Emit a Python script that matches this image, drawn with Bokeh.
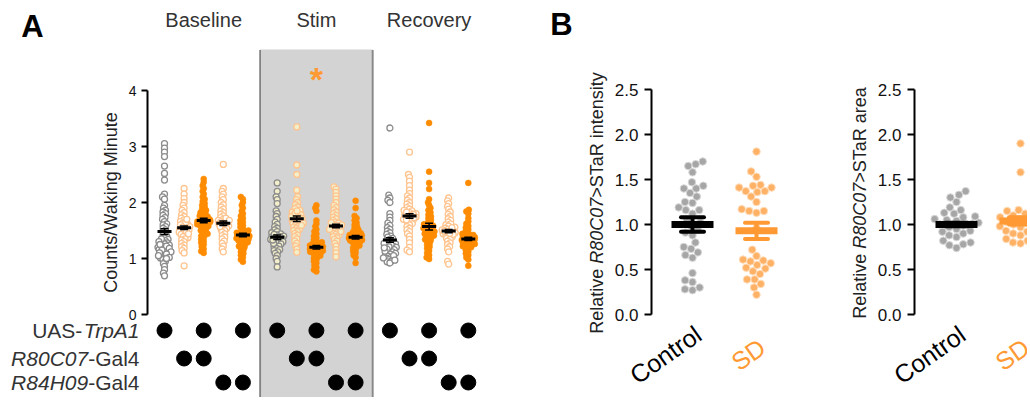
import math
from bokeh.plotting import figure
from bokeh.layouts import row
from bokeh.models import BoxAnnotation, FixedTicker, Range1d, LinearAxis
from bokeh.core.properties import value
from bokeh.embed import file_html
from bokeh.resources import INLINE

FONT = "Liberation Sans"

# ---------------- Panel A data ----------------
phases = ["Baseline", "Stim", "Recovery"]
row_labels = [("UAS-", "TrpA1"), ("R80C07", "-Gal4"), ("R84H09", "-Gal4")]
row_italic_first = [False, True, True]
uas_member = [1, 0, 1, 0, 1]
r80_member = [0, 1, 1, 0, 0]
r84_member = [0, 0, 0, 1, 1]

base_uas = [3.05, 2.97, 2.90, 2.82, 2.65, 2.52, 2.40, 2.15, 2.10, 2.06, 1.95, 1.90, 1.86, 1.83, 1.80, 1.77,
            1.73, 1.70, 1.66, 1.62, 1.60, 1.57, 1.54, 1.51, 1.48, 1.45, 1.42, 1.40, 1.37, 1.34, 1.32, 1.30,
            1.28, 1.26, 1.24, 1.22, 1.20, 1.18, 1.16, 1.14, 1.12, 1.10, 1.07, 1.04, 1.01, 0.98, 0.95, 0.91,
            0.86, 0.80, 0.74, 0.69, 1.35, 1.30, 1.25, 1.22, 1.18, 1.15, 1.12, 1.10, 1.08, 1.05, 1.02, 1.00]
base_r80 = [2.25, 2.15, 2.07, 2.00, 1.95, 1.90, 1.86, 1.82, 1.78, 1.75, 1.72, 1.69, 1.66, 1.63, 1.61, 1.59,
            1.57, 1.55, 1.53, 1.51, 1.49, 1.47, 1.45, 1.43, 1.41, 1.39, 1.37, 1.35, 1.33, 1.30, 1.27, 1.24,
            1.21, 1.18, 1.14, 1.10, 0.87, 1.60, 1.56, 1.52, 1.48, 1.44, 1.65, 1.70]
base_uas_r80 = [2.42, 2.36, 2.30, 2.25, 2.20, 2.15, 2.10, 2.06, 2.02, 1.98, 1.95, 1.92, 1.89, 1.86, 1.84, 1.82,
                1.80, 1.78, 1.76, 1.74, 1.72, 1.70, 1.68, 1.66, 1.65, 1.63, 1.61, 1.60, 1.58, 1.56, 1.54, 1.52,
                1.50, 1.48, 1.46, 1.44, 1.42, 1.40, 1.37, 1.34, 1.31, 1.28, 1.25, 1.21, 1.17, 1.13, 1.10, 1.70,
                1.66, 1.62, 1.58, 1.75, 1.68, 1.64]
base_r84 = [2.68, 2.25, 2.20, 2.15, 2.10, 2.05, 2.00, 1.96, 1.92, 1.88, 1.85, 1.82, 1.79, 1.76, 1.73, 1.70,
            1.68, 1.66, 1.64, 1.62, 1.60, 1.58, 1.56, 1.54, 1.52, 1.50, 1.47, 1.44, 1.41, 1.38, 1.35, 1.31,
            1.27, 1.22, 1.17, 1.12, 1.65, 1.61, 1.57, 1.72, 1.68]
base_uas_r84 = [2.10, 2.06, 2.00, 1.95, 1.90, 1.85, 1.80, 1.76, 1.72, 1.68, 1.65, 1.62, 1.59, 1.56, 1.53, 1.50,
                1.48, 1.46, 1.44, 1.42, 1.40, 1.38, 1.36, 1.34, 1.32, 1.30, 1.28, 1.26, 1.24, 1.22, 1.20, 1.18,
                1.15, 1.12, 1.09, 1.06, 1.02, 0.98, 0.94, 1.45, 1.41, 1.37, 1.33, 1.29, 1.43, 1.39, 1.35, 1.47]

stim_uas = [2.35, 2.20, 2.10, 2.05, 1.98, 1.85, 1.80, 1.75, 1.70, 1.65, 1.61, 1.57, 1.54, 1.51, 1.48, 1.46,
            1.44, 1.42, 1.40, 1.38, 1.36, 1.34, 1.32, 1.30, 1.28, 1.26, 1.24, 1.22, 1.20, 1.18, 1.16, 1.14,
            1.12, 1.09, 1.05, 1.00, 0.95, 0.85, 1.39, 1.35, 1.31, 1.27, 1.43, 1.37, 1.33]
stim_r80 = [3.35, 2.67, 2.50, 2.22, 2.10, 2.05, 2.00, 1.96, 1.92, 1.89, 1.86, 1.83, 1.80, 1.78, 1.76, 1.74,
            1.72, 1.70, 1.68, 1.66, 1.64, 1.62, 1.60, 1.58, 1.56, 1.54, 1.52, 1.50, 1.48, 1.45, 1.42, 1.39,
            1.35, 1.31, 1.27, 1.22, 1.17, 1.11, 1.75, 1.71, 1.67, 1.63, 1.59, 1.81, 1.85]
stim_uas_r80 = [1.95, 1.90, 1.85, 1.68, 1.62, 1.57, 1.52, 1.48, 1.44, 1.40, 1.37, 1.34, 1.31, 1.29, 1.27, 1.25,
                1.23, 1.21, 1.19, 1.17, 1.15, 1.13, 1.11, 1.09, 1.07, 1.05, 1.03, 1.01, 0.98, 0.95, 0.92, 0.88,
                0.84, 0.80, 0.77, 1.22, 1.18, 1.14, 1.10, 1.20, 1.16, 1.12, 1.26]
stim_r84 = [2.28, 2.24, 2.18, 2.12, 2.06, 2.00, 1.95, 1.91, 1.87, 1.83, 1.80, 1.77, 1.74, 1.71, 1.68, 1.65,
            1.63, 1.61, 1.59, 1.57, 1.55, 1.53, 1.51, 1.49, 1.47, 1.45, 1.43, 1.41, 1.39, 1.37, 1.34, 1.31,
            1.27, 1.22, 1.16, 1.10, 1.03, 1.60, 1.56, 1.52, 1.64, 1.48]
stim_uas_r84 = [2.03, 1.90, 1.76, 1.72, 1.68, 1.64, 1.60, 1.57, 1.54, 1.51, 1.49, 1.47, 1.45, 1.43, 1.41, 1.39,
                1.37, 1.35, 1.33, 1.31, 1.29, 1.27, 1.25, 1.23, 1.21, 1.19, 1.16, 1.13, 1.10, 1.06, 1.02, 0.92,
                1.40, 1.36, 1.32, 1.38, 1.34, 1.42, 1.44, 1.30]

rec_uas = [3.33, 2.13, 2.08, 2.04, 2.00, 1.80, 1.74, 1.68, 1.63, 1.59, 1.55, 1.52, 1.49, 1.46, 1.43, 1.40,
           1.38, 1.36, 1.34, 1.32, 1.30, 1.28, 1.26, 1.24, 1.22, 1.20, 1.18, 1.16, 1.14, 1.12, 1.10, 1.08,
           1.06, 1.04, 1.02, 1.00, 0.98, 0.96, 0.94, 0.92, 1.25, 1.21, 1.17, 1.13, 1.09, 1.05, 1.01, 0.97,
           1.27, 1.19]
rec_r80 = [2.90, 2.50, 2.45, 2.38, 2.30, 2.22, 2.16, 2.12, 2.08, 2.04, 2.00, 1.97, 1.94, 1.91, 1.88, 1.85,
           1.82, 1.80, 1.78, 1.76, 1.74, 1.72, 1.70, 1.68, 1.66, 1.64, 1.62, 1.60, 1.57, 1.54, 1.51, 1.48,
           1.44, 1.40, 1.34, 1.28, 1.20, 1.15, 1.12, 1.86, 1.79, 1.73, 1.69, 1.83, 1.77]
rec_uas_r80 = [3.42, 2.55, 2.35, 2.24, 2.06, 2.00, 1.95, 1.90, 1.86, 1.82, 1.78, 1.75, 1.72, 1.69, 1.66, 1.63,
               1.60, 1.58, 1.56, 1.54, 1.52, 1.50, 1.48, 1.46, 1.44, 1.42, 1.40, 1.38, 1.36, 1.34, 1.32, 1.30,
               1.27, 1.24, 1.21, 1.18, 1.14, 1.10, 1.06, 1.02, 0.99, 1.61, 1.57, 1.53, 1.49, 1.45, 1.41]
rec_r84 = [2.08, 2.03, 1.98, 1.93, 1.88, 1.83, 1.79, 1.75, 1.71, 1.68, 1.65, 1.62, 1.60, 1.58, 1.56, 1.54,
           1.52, 1.50, 1.48, 1.46, 1.44, 1.42, 1.40, 1.38, 1.36, 1.34, 1.31, 1.28, 1.25, 1.21, 1.17, 1.12,
           0.95, 0.90, 1.51, 1.47, 1.43, 1.55, 1.49, 1.45]
rec_uas_r84 = [2.35, 1.87, 1.84, 1.80, 1.72, 1.66, 1.62, 1.58, 1.55, 1.52, 1.49, 1.46, 1.44, 1.42, 1.40, 1.38,
               1.36, 1.34, 1.32, 1.30, 1.28, 1.26, 1.24, 1.22, 1.20, 1.18, 1.15, 1.12, 1.09, 1.06, 1.02, 0.98,
               0.87, 1.37, 1.33, 1.29, 1.25, 1.39, 1.35, 1.31, 1.27, 1.41, 1.43, 1.21]

columns_A = [
    [base_uas, base_r80, base_uas_r80, base_r84, base_uas_r84],
    [stim_uas, stim_r80, stim_uas_r80, stim_r84, stim_uas_r84],
    [rec_uas, rec_r80, rec_uas_r80, rec_r84, rec_uas_r84],
]
means_A = [[1.48, 1.55, 1.68, 1.63, 1.42],
           [1.38, 1.71, 1.20, 1.58, 1.38],
           [1.33, 1.76, 1.57, 1.49, 1.35]]
sems_A = [[0.05, 0.03, 0.04, 0.04, 0.03],
          [0.04, 0.05, 0.03, 0.03, 0.03],
          [0.04, 0.04, 0.06, 0.03, 0.03]]
sig_phase, sig_group, sig_y = 1, 2, 4.2

# ---------------- Panel B data ----------------
b_categories = ["Control", "SD"]
intensity_control = [1.70, 1.65, 1.67, 1.58, 1.47, 1.43, 1.40, 1.40, 1.35, 1.31, 1.25, 1.24, 1.19, 1.16, 1.16,
                     1.12, 1.05, 1.02, 0.98, 0.94, 0.91, 0.88, 0.80, 0.75, 0.73, 0.69, 0.66, 0.63, 0.46, 0.38,
                     0.36, 0.30, 0.28, 0.27]
intensity_sd = [1.81, 1.59, 1.53, 1.44, 1.43, 1.41, 1.41, 1.37, 1.37, 1.36, 1.31, 1.25, 1.17, 1.15, 1.15, 1.13,
                0.96, 0.72, 0.65, 0.61, 0.60, 0.59, 0.57, 0.55, 0.52, 0.51, 0.48, 0.45, 0.39, 0.39, 0.34, 0.30,
                0.22]
area_control = [1.37, 1.33, 1.30, 1.25, 1.19, 1.16, 1.13, 1.12, 1.09, 1.08, 1.06, 1.05, 1.04, 1.02, 1.01, 1.00,
                0.99, 0.97, 0.95, 0.93, 0.92, 0.90, 0.88, 0.86, 0.82, 0.80, 0.78, 0.77, 0.74]
area_sd = [1.90, 1.58, 1.16, 1.15, 1.14, 1.12, 1.10, 1.08, 1.06, 1.05, 1.03, 1.02, 1.00, 0.98, 0.97, 0.95,
           0.93, 0.92, 0.90, 0.88, 0.86, 0.84, 0.82, 0.80, 0.79]
intensity_means = [1.00, 0.93]
intensity_sems = [0.08, 0.09]
area_means = [1.00, 1.04]
area_sems = [0.02, 0.04]
b_ylabels = [("Relative ", "R80C07", ">STaR intensity"), ("Relative ", "R80C07", ">STaR area")]

# ---------------- helpers ----------------
AW = {' ': 278, '-': 333, '/': 278, '>': 584, '.': 278, 'A': 667, 'B': 667, 'C': 722, 'D': 722, 'G': 778,
      'H': 722, 'R': 722, 'S': 667, 'T': 611, 'U': 722, 'W': 944, 'M': 833, 'a': 556, 'e': 556, 'i': 222,
      'l': 222, 'n': 556, 'o': 556, 'p': 556, 'r': 333, 's': 500, 't': 278, 'u': 556, 'v': 500, 'y': 500,
      'k': 500, 'g': 556, 'c': 500, 'd': 556}


def text_w(s, size):
    return sum(AW.get(ch, 556) for ch in s) / 1000.0 * size


def swarm(vals, d, ppx, ppy, maxw):
    order = sorted(range(len(vals)), key=lambda i: vals[i])
    placed = []
    offs = [0.0] * len(vals)
    for i in order:
        y = vals[i] * ppy
        cands = [0.0]
        for (px, py) in placed:
            dy = abs(py - y)
            if dy < d:
                dx = math.sqrt(d * d - dy * dy)
                cands += [px + dx, px - dx]
        cands.sort(key=lambda c: (abs(c), c))
        chosen = None
        for c in cands:
            if abs(c) > maxw:
                continue
            if all((c - px) ** 2 + (y - py) ** 2 >= d * d - 1e-6 for (px, py) in placed):
                chosen = c
                break
        if chosen is None:
            best = min(cands, key=lambda c: abs(abs(c) - maxw))
            chosen = max(-maxw, min(maxw, best))
        placed.append((chosen, y))
        offs[i] = chosen / ppx
    return offs


def style_axis(a, size):
    a.minor_tick_line_color = None
    a.axis_line_width = 2
    a.major_tick_line_width = 2
    a.major_tick_in = 0
    a.major_label_text_font = FONT
    a.major_label_text_font_size = size
    a.major_label_text_color = "#111111"


# page geometry (reference pixels); canvas origin sits at page (1, 1)
ORG = 1
FIG_H = 397
A_W, B1_W, B2_W = 544, 263, 220

# ---------------- Panel A ----------------
A_PPX, A_PPY = 19.6, 56.0
A_X0PX, A_Y0PX = 165.0, 315.0   # page px of data (0, 0)


def ax(px):
    return (px - A_X0PX) / A_PPX


def ay(py):
    return (A_Y0PX - py) / A_PPY


PHASE_STEP = 5.75
pA = figure(width=A_W, height=FIG_H, x_range=Range1d(ax(ORG), ax(ORG + A_W)),
            y_range=Range1d(ay(ORG + FIG_H), ay(ORG)),
            output_backend="svg", toolbar_location=None, x_axis_type=None, y_axis_location=None,
            min_border=0, outline_line_color=None, background_fill_color=None, border_fill_color="white")
pA.grid.visible = False
ya = LinearAxis(fixed_location=ax(148), bounds=(0, 4), ticker=FixedTicker(ticks=[0, 1, 2, 3, 4]))
style_axis(ya, "14px")
ya.major_tick_out = 6
pA.add_layout(ya, "left")

# shaded stim region
left_edge = (4 + PHASE_STEP) / 2
right_edge = (4 + PHASE_STEP + 2 * PHASE_STEP) / 2
box_top = 4.73
pA.add_layout(BoxAnnotation(left=left_edge, right=right_edge, top=box_top, fill_color="#D3D3D3",
                            fill_alpha=1.0, line_color=None, level="underlay"))
pA.segment(x0=[left_edge, right_edge], y0=[ay(ORG + FIG_H)] * 2, x1=[left_edge, right_edge],
           y1=[box_top, box_top], line_color="#333333", line_width=2, line_dash="1 1")

colors_line = ["#8C8C8C", "#FFC48F", "#FF8C00", "#FFC48F", "#FF8C00"]
filled = [False, False, True, False, True]

for p_i, phase in enumerate(phases):
    for g in range(5):
        vals = columns_A[p_i][g]
        xc = g + PHASE_STEP * p_i
        offs = swarm(vals, 3.0, A_PPX, A_PPY, 6.5)
        xs = [xc + o for o in offs]
        if filled[g]:
            pA.scatter(xs, vals, size=6, fill_color=colors_line[g], line_color=colors_line[g], line_width=0.5)
        else:
            fill = "#F3EFCB" if p_i == 1 else "white"
            pA.scatter(xs, vals, size=6, fill_color=fill, line_color=colors_line[g], line_width=1.3)
    xcs = [g + PHASE_STEP * p_i for g in range(5)]
    m = means_A[p_i]
    s = sems_A[p_i]
    hw = 7 / A_PPX
    cw = 4 / A_PPX
    pA.segment(x0=[x - hw for x in xcs], y0=m, x1=[x + hw for x in xcs], y1=m, line_color="black", line_width=3)
    lo = [a - b for a, b in zip(m, s)]
    hi = [a + b for a, b in zip(m, s)]
    pA.segment(x0=xcs, y0=lo, x1=xcs, y1=hi, line_color="black", line_width=1.5)
    pA.segment(x0=[x - cw for x in xcs], y0=lo, x1=[x + cw for x in xcs], y1=lo, line_color="black", line_width=1.5)
    pA.segment(x0=[x - cw for x in xcs], y0=hi, x1=[x + cw for x in xcs], y1=hi, line_color="black", line_width=1.5)

# phase titles
pA.text(x=[2 + PHASE_STEP * i for i in range(3)], y=[ay(20)] * 3, text=phases,
        text_font=value(FONT), text_font_size="20px", text_color="#333333",
        text_align="center", text_baseline="middle")
# significance star
pA.text(x=[sig_group + PHASE_STEP * sig_phase], y=[sig_y], text=["*"], text_font=value(FONT),
        text_font_size="34px", text_font_style="bold", text_color="#FF9933",
        text_align="center", text_baseline="middle")
# y-axis title
pA.text(x=[ax(111)], y=[2.0], text=["Counts/Waking Minute"], angle=math.pi / 2, text_font=value(FONT),
        text_font_size="18px", text_color="#222222", text_align="center", text_baseline="middle")

# genotype indicator rows
row_y = [ay(331), ay(359), ay(383)]
members = [uas_member, r80_member, r84_member]
for r in range(3):
    xs = []
    for p_i in range(3):
        for g in range(5):
            if members[r][g]:
                xs.append(g + PHASE_STEP * p_i)
    pA.scatter(xs, [row_y[r]] * len(xs), size=15, fill_color="black", line_color="black")

lab_size = 21
anchor_x = ax(140)
for r in range(3):
    first, second = row_labels[r]
    it1 = row_italic_first[r]
    pA.text(x=[anchor_x], y=[row_y[r]], text=[second], text_align="right", text_baseline="middle",
            text_font=value(FONT), text_font_size=f"{lab_size}px", text_color="#333333",
            text_font_style="normal" if it1 else "italic")
    x2 = anchor_x - text_w(second, lab_size) / A_PPX
    pA.text(x=[x2], y=[row_y[r]], text=[first], text_align="right", text_baseline="middle",
            text_font=value(FONT), text_font_size=f"{lab_size}px", text_color="#333333",
            text_font_style="italic" if it1 else "normal")

pA.text(x=[ax(33)], y=[ay(27)], text=["A"], text_align="center", text_baseline="middle",
        text_font=value(FONT), text_font_size="31px", text_font_style="bold", text_color="black")

# ---------------- Panel B ----------------
B_PPX, B_PPY = 64.0, 90.0
B_Y0PX = 315.0


def make_b(left_px, width, cat0_px, axis_px, data_c, data_s, means, sems, ylab, letter):
    def bx(px):
        return (px - cat0_px) / B_PPX

    def by(py):
        return (B_Y0PX - py) / B_PPY

    p = figure(width=width, height=FIG_H, x_range=Range1d(bx(left_px), bx(left_px + width)),
               y_range=Range1d(by(ORG + FIG_H), by(ORG)),
               output_backend="svg", toolbar_location=None, x_axis_type=None, y_axis_location=None,
               min_border=0, outline_line_color=None, background_fill_color=None, border_fill_color="white")
    p.grid.visible = False
    a = LinearAxis(fixed_location=bx(axis_px), bounds=(0, 2.5),
                   ticker=FixedTicker(ticks=[0, 0.5, 1.0, 1.5, 2.0, 2.5]))
    a.major_label_overrides = {0: "0.0", 0.5: "0.5", 1: "1.0", 1.5: "1.5", 2: "2.0", 2.5: "2.5"}
    style_axis(a, "17px")
    a.major_tick_out = 7
    a.major_label_standoff = 6
    p.add_layout(a, "left")

    pt_fill = ["#A6A6A6", "#FFB266"]
    pt_line = ["#D9D9D9", "#FFDDBB"]
    bar_col = ["black", "#FF9933"]
    for i, vals in enumerate([data_c, data_s]):
        offs = swarm(vals, 7.6, B_PPX, B_PPY, 22)
        p.scatter([i + o for o in offs], vals, size=7.5, fill_color=pt_fill[i], line_color=pt_line[i],
                  line_width=1)
    for i in range(2):
        m, s = means[i], sems[i]
        hw = 21 / B_PPX
        cw = 11.5 / B_PPX
        p.segment(x0=[i - hw], y0=[m], x1=[i + hw], y1=[m], line_color=bar_col[i], line_width=7)
        p.segment(x0=[i], y0=[m - s], x1=[i], y1=[m + s], line_color=bar_col[i], line_width=4)
        p.segment(x0=[i - cw, i - cw], y0=[m - s, m + s], x1=[i + cw, i + cw], y1=[m - s, m + s],
                  line_color=bar_col[i], line_width=4, line_cap="round")
    # category labels
    ang = math.radians(35)
    lab_fs = 25
    cat_cols = ["black", "#FF9933"]
    for i, c in enumerate(b_categories):
        w = text_w(c, lab_fs)
        xoff = 6 - (w / 2) * math.cos(ang)
        p.text(x=[i], y=[by(355)], text=[c], angle=ang, x_offset=xoff, text_font=value(FONT),
               text_font_size=f"{lab_fs}px", text_color=cat_cols[i], text_align="center",
               text_baseline="middle")
    # rotated y label with italic part
    fs = 18
    total = sum(text_w(t, fs) for t in ylab)
    ycur = 1.25 - (total / 2) / B_PPY
    lx = bx(axis_px - 55)
    styles = ["normal", "italic", "normal"]
    for t, st in zip(ylab, styles):
        p.text(x=[lx], y=[ycur], text=[t], angle=math.pi / 2, text_align="left", text_baseline="middle",
               text_font=value(FONT), text_font_size=f"{fs}px", text_font_style=st, text_color="#222222")
        ycur += text_w(t, fs) / B_PPY
    if letter:
        p.text(x=[bx(562)], y=[by(25)], text=[letter], text_align="center", text_baseline="middle",
               text_font=value(FONT), text_font_size="31px", text_font_style="bold", text_color="black")
    return p


pB1 = make_b(ORG + A_W, B1_W, 693, 652, intensity_control, intensity_sd, intensity_means, intensity_sems,
             b_ylabels[0], "B")
pB2 = make_b(ORG + A_W + B1_W, B2_W, 957, 915, area_control, area_sd, area_means, area_sems,
             b_ylabels[1], None)

layout = row(pA, pB1, pB2)
open("out.html", "w").write(file_html(layout, INLINE))
